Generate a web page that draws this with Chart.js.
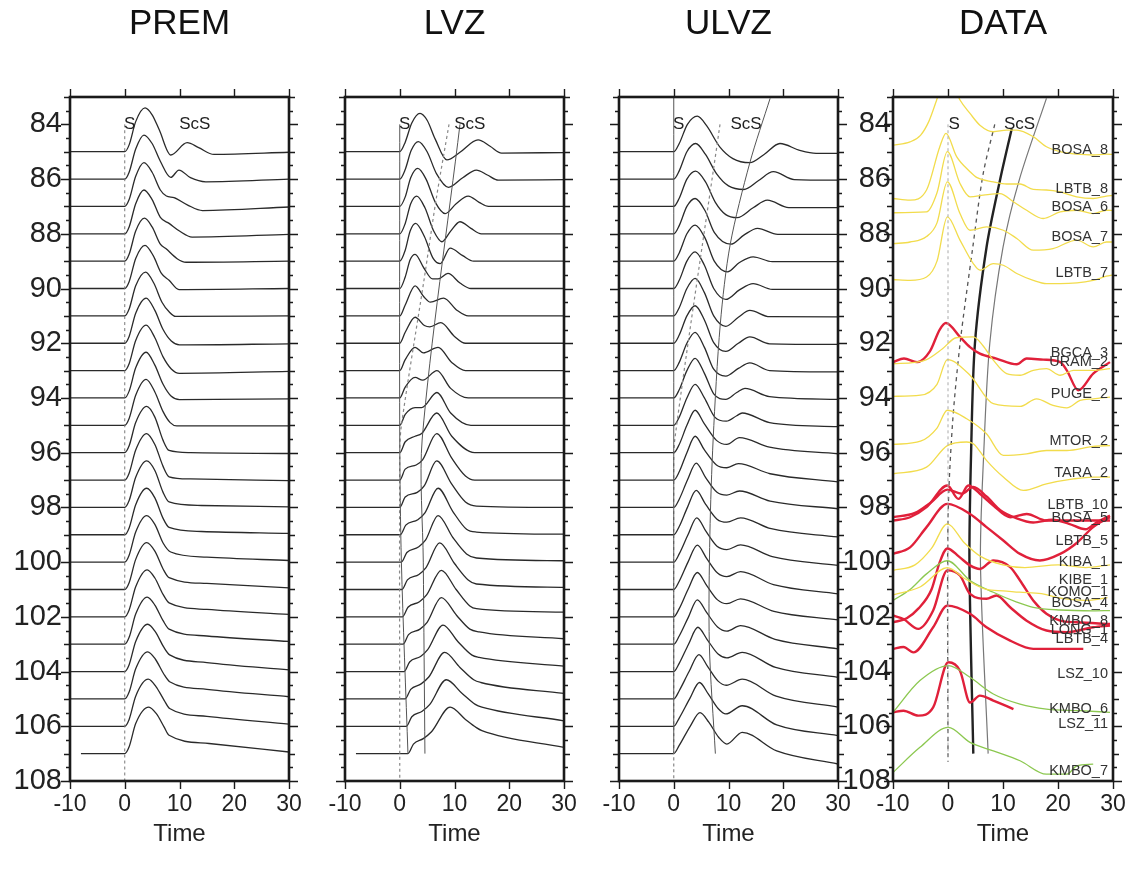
<!DOCTYPE html>
<html>
<head>
<meta charset="utf-8">
<script src="https://cdn.jsdelivr.net/npm/chart.js@4.4.0/dist/chart.umd.min.js"></script>
<style>
  body { margin: 0; background: #fff; }
  #wrap { position: relative; width: 1137px; height: 877px; overflow: hidden; background: #fff; }
  canvas { position: absolute; top: 0; }
</style>
</head>
<body>
<div id="wrap">
  <canvas id="c0" width="355" height="877"></canvas>
  <canvas id="c1" width="355" height="877"></canvas>
  <canvas id="c2" width="355" height="877"></canvas>
  <canvas id="c3" width="356" height="877"></canvas>
</div>
<script>
const SANS = "'Liberation Sans', Arial, Helvetica, sans-serif";

const panelTitles = ['PREM', 'LVZ', 'ULVZ', 'DATA'];
const timeTicks = [-10, 0, 10, 20, 30];
const distTicks = [84, 86, 88, 90, 92, 94, 96, 98, 100, 102, 104, 106, 108];

// baselines of the synthetic traces (deg)
const modelDist = [85, 86, 87, 88, 89, 90, 91, 92, 93, 94, 95, 96, 97, 98, 99, 100, 101, 102, 103, 104, 105, 106, 107];

// synthetic traces: pairs of [time, deflection from baseline] (negative = up)
const premTraces = [
  [-10,0, 0,0, 0.8,-0.25, 2,-1.1, 3.7,-1.6, 5,-1.35, 6.3,-0.8, 8.4,0.12, 11.4,-0.33, 13.5,-0.15, 16.3,0.1, 30,0.02],
  [-10,0, 0,0, 0.8,-0.25, 2,-1.1, 3.5,-1.61, 5,-1.3, 6.5,-0.65, 8.4,-0.06, 9.9,-0.33, 12,-0.05, 14.8,0.1, 30,0],
  [-10,0, 0,0, 0.8,-0.25, 2,-1.1, 3.5,-1.6, 5,-1.25, 6.5,-0.6, 7.6,-0.38, 9,-0.32, 11.5,-0.05, 14.2,0.15, 30,0.02],
  [-10,0, 0,0, 0.8,-0.25, 2,-1.1, 3.5,-1.6, 5,-1.25, 6.5,-0.6, 8.1,-0.38, 10,-0.1, 12.3,0.12, 30,0.02],
  [-10,0, 0,0, 0.8,-0.25, 2,-1.1, 3.6,-1.57, 5,-1.25, 6.5,-0.62, 7.5,-0.46, 9.5,-0.1, 11.2,0.04, 30,0],
  [-10,0, 0,0, 0.8,-0.25, 2,-1.1, 3.7,-1.58, 5.2,-1.2, 6.7,-0.55, 8.1,-0.3, 9.9,0.04, 30,0],
  [-10,0, 0,0, 0.8,-0.25, 2,-1.1, 3.8,-1.6, 5.3,-1.2, 6.8,-0.5, 8.1,-0.15, 9.3,0.02, 30,0],
  [-10,0, 0,0, 0.8,-0.25, 2,-1.1, 3.9,-1.65, 5.5,-1.2, 7,-0.5, 8.5,-0.08, 10,0.06, 30,0.02],
  [-10,0, 0,0, 0.8,-0.25, 2,-1.1, 3.9,-1.66, 5.5,-1.2, 7,-0.5, 8.5,-0.06, 10,0.1, 30,0.03],
  [-10,0, 0,0, 0.8,-0.25, 2,-1.1, 3.9,-1.67, 5.5,-1.2, 7,-0.5, 8.5,-0.06, 10,0.06, 30,0.03],
  [-10,0, 0,0, 0.8,-0.25, 2,-1.1, 3.9,-1.68, 5.5,-1.22, 7,-0.5, 8.3,-0.1, 9.5,0.02, 30,0.02],
  [-10,0, 0,0, 0.8,-0.25, 2,-1.1, 4,-1.69, 5.5,-1.3, 7,-0.45, 8.1,-0.08, 12,0, 30,0.03],
  [-10,0, 0,0, 0.8,-0.25, 2,-1.1, 4,-1.7, 5.5,-1.3, 7,-0.5, 8.1,-0.12, 12,-0.04, 30,0.02],
  [-10,0, 0,0, 0.8,-0.25, 2,-1.1, 4,-1.7, 5.5,-1.35, 7,-0.55, 8.1,-0.2, 14,-0.07, 30,-0.02],
  [-10,0, 0,0, 0.8,-0.25, 2,-1.1, 4,-1.7, 5.5,-1.35, 7,-0.6, 8.1,-0.27, 14,-0.12, 30,-0.05],
  [-10,0, 0,0, 0.8,-0.25, 2,-1.1, 4,-1.7, 5.5,-1.38, 7,-0.7, 8.4,-0.37, 15,-0.18, 30,-0.06],
  [-10,0, 0,0, 0.8,-0.25, 2,-1.1, 4,-1.71, 5.5,-1.4, 7,-0.75, 8.1,-0.43, 15,-0.22, 30,-0.06],
  [-10,0, 0,0, 0.8,-0.25, 2,-1.1, 4.1,-1.72, 5.5,-1.42, 7,-0.82, 8.1,-0.51, 15,-0.27, 30,-0.09],
  [-10,0, 0,0, 0.8,-0.25, 2,-1.1, 4.1,-1.72, 5.5,-1.43, 7,-0.86, 8.1,-0.55, 15,-0.3, 30,-0.1],
  [-10,0, 0,0, 0.8,-0.25, 2,-1.1, 4.2,-1.73, 5.6,-1.45, 7.1,-0.9, 8.2,-0.61, 15,-0.33, 30,-0.06],
  [-10,0, 0,0, 0.8,-0.25, 2,-1.1, 4.2,-1.72, 5.6,-1.45, 7.1,-0.92, 8.2,-0.63, 15,-0.35, 30,-0.08],
  [-10,0, 0,0, 0.8,-0.25, 2,-1.1, 4.3,-1.72, 5.7,-1.45, 7.2,-0.95, 8.2,-0.65, 15,-0.36, 30,-0.08],
  [-8,0, 0,0, 0.8,-0.25, 2,-1.1, 4.4,-1.7, 5.8,-1.45, 7.2,-0.97, 8.1,-0.67, 15.4,-0.37, 30,-0.06]
];

const lvzTraces = [
  [-10,0, 0,0, 1,-0.35, 2.2,-1.05, 3.7,-1.4, 5,-1.15, 6.5,-0.45, 8.6,0.3, 11,0.02, 14.3,-0.43, 16.5,-0.2, 18.6,0.05, 30,0.03],
  [-10,0, 0,0, 1,-0.35, 2.1,-1.05, 3.4,-1.37, 5,-1.0, 6.7,-0.2, 8.9,0.3, 11.5,-0.05, 14,-0.33, 16,-0.15, 18,0.04, 30,0.02],
  [-10,0, 0,0, 1,-0.35, 2,-1.05, 3.3,-1.39, 4.8,-1.0, 6.5,-0.15, 8.3,0.26, 10.3,-0.1, 12.5,-0.38, 14.5,-0.15, 16.2,0, 30,0],
  [-10,0, 0,0, 1,-0.38, 2,-1.1, 3.1,-1.38, 4.6,-0.95, 6.2,-0.1, 7.7,0.29, 9.3,-0.1, 11,-0.44, 13,-0.2, 14.9,0, 30,0],
  [-10,0, 0,0, 1,-0.4, 1.9,-1.1, 2.9,-1.38, 4.5,-0.9, 6.1,-0.1, 7.4,0.09, 9.2,-0.48, 11.5,-0.2, 13.5,0, 30,0],
  [-10,0, 0,0, 1,-0.42, 1.9,-1.05, 2.8,-1.25, 4.4,-0.75, 6,-0.35, 7,-0.35, 8.8,-0.55, 11,-0.2, 13,0, 30,0],
  [-10,0, 0,0, 1,-0.4, 2.8,-1.1, 4.4,-0.7, 5.6,-0.5, 8,-0.65, 10.5,-0.2, 12.5,0, 30,0],
  [-10,0, 0,0, 1,-0.4, 2.8,-0.95, 4.5,-0.65, 5.5,-0.6, 7.5,-0.75, 10,-0.25, 12,0, 30,0],
  [-10,0, 0,0, 1,-0.4, 2.8,-0.85, 4.3,-0.65, 7,-0.85, 9.5,-0.3, 12,0, 30,0],
  [-10,0, 0,0, 1,-0.4, 2.8,-0.75, 4.2,-0.65, 6.8,-1.0, 9.3,-0.35, 12.5,0, 30,0],
  [-10,0, 0,0, 1,-0.4, 2.8,-0.65, 4,-0.65, 6.8,-1.2, 9.3,-0.45, 13,0, 30,0],
  [-10,0, 0,0, 1,-0.4, 2.8,-0.6, 4,-0.7, 6.75,-1.45, 9.5,-0.6, 13.7,0, 30,0],
  [-10,0, 0,0, 1,-0.4, 3,-0.55, 4.2,-0.75, 6.75,-1.7, 9.5,-0.8, 12,-0.15, 13.7,0, 30,0],
  [-10,0, 0,0, 1,-0.38, 3.2,-0.55, 4.5,-0.8, 6.75,-1.7, 9.5,-0.85, 12,-0.2, 14,-0.05, 30,0],
  [-10,0, 0.1,0, 1.1,-0.35, 3.3,-0.55, 4.6,-0.8, 7,-1.7, 9.7,-0.85, 12.2,-0.2, 14,-0.1, 30,-0.02],
  [-10,0, 0.3,0, 1.3,-0.35, 3.4,-0.55, 4.7,-0.8, 7,-1.7, 9.7,-0.9, 12.2,-0.3, 14,-0.15, 30,-0.05],
  [-10,0, 0.4,0, 1.4,-0.35, 3.5,-0.55, 4.8,-0.8, 7.3,-1.7, 10,-0.95, 12.5,-0.35, 14,-0.2, 30,-0.08],
  [-10,0, 0.5,0, 1.5,-0.35, 3.6,-0.55, 4.9,-0.8, 7.6,-1.7, 10.3,-1.0, 12.8,-0.4, 14,-0.3, 30,-0.17],
  [-10,0, 0.6,0, 1.6,-0.35, 3.7,-0.55, 5,-0.8, 7.6,-1.7, 10.4,-1.05, 12.8,-0.55, 14.5,-0.45, 30,-0.2],
  [-10,0, 0.8,0, 1.8,-0.35, 3.8,-0.55, 5.1,-0.8, 7.9,-1.7, 10.6,-1.1, 13.2,-0.6, 14.5,-0.52, 30,-0.2],
  [-10,0, 1,0, 2,-0.35, 3.9,-0.55, 5.3,-0.8, 8.2,-1.7, 11,-1.15, 13.5,-0.7, 14.8,-0.6, 30,-0.2],
  [-10,0, 1.2,0, 2.2,-0.35, 4.1,-0.55, 5.5,-0.8, 8.5,-1.7, 11.4,-1.2, 13.8,-0.8, 15,-0.7, 30,-0.2],
  [-8,0, 1.5,0, 2.5,-0.35, 4.3,-0.55, 5.8,-0.8, 9.2,-1.7, 12,-1.25, 14,-0.95, 15,-0.84, 30,-0.23]
];

const ulvzTraces = [
  [-10,0, 0,0, 1,-0.3, 2.5,-1.0, 4.3,-1.3, 6,-0.95, 8.4,-0.18, 10.8,0.25, 13.9,0.4, 16.5,0.1, 19.4,-0.3, 23,-0.05, 26,0.06, 30,0.06],
  [-10,0, 0,0, 1,-0.3, 2.4,-1.0, 4,-1.3, 5.8,-0.9, 7.8,-0.2, 10,0.25, 12.8,0.38, 15.5,0.05, 18.2,-0.27, 22,0.02, 30,0.04],
  [-10,0, 0,0, 1,-0.3, 2.4,-1.0, 4,-1.29, 5.8,-0.9, 7.6,-0.15, 9.5,0.3, 11.6,0.41, 14.5,0.05, 17.1,-0.23, 21,0.04, 30,0.04],
  [-10,0, 0,0, 1,-0.3, 2.4,-1.0, 3.9,-1.29, 5.7,-0.85, 7.4,-0.05, 10.4,0.38, 12.8,0.05, 15.3,-0.2, 19,0.02, 30,0.02],
  [-10,0, 0,0, 1,-0.3, 2.4,-1.0, 3.9,-1.32, 5.7,-0.85, 7.4,0, 9.8,0.39, 12,0.05, 14.5,-0.16, 18,0.02, 30,0.02],
  [-10,0, 0,0, 1,-0.3, 2.4,-1.0, 3.9,-1.34, 5.6,-0.85, 7.3,0, 9.5,0.4, 12,0.05, 14.5,-0.18, 18,0.03, 30,0.03],
  [-10,0, 0,0, 1,-0.3, 2.4,-1.0, 3.9,-1.37, 5.6,-0.85, 7.3,0, 9.5,0.38, 11.8,0.05, 13.9,-0.2, 17.5,0.03, 30,0.04],
  [-10,0, 0,0, 1,-0.3, 2.4,-1.0, 3.9,-1.37, 5.6,-0.85, 7.3,-0.02, 9.5,0.3, 11.8,0, 13.9,-0.23, 17.5,0.02, 30,0.04],
  [-10,0, 0,0, 1,-0.3, 2.4,-1.0, 3.9,-1.4, 5.6,-0.85, 7.3,-0.05, 9.5,0.2, 11.8,-0.08, 13.9,-0.28, 17.5,0, 30,0.05],
  [-10,0, 0,0, 1,-0.3, 2.4,-1.0, 3.9,-1.45, 5.6,-0.9, 7.3,-0.15, 9.5,0.05, 11.5,-0.2, 13,-0.35, 17.5,-0.05, 30,0.05],
  [-10,0, 0,0, 1,-0.3, 2.4,-1.0, 3.9,-1.5, 5.6,-1.0, 7.5,-0.3, 9.6,-0.15, 11.5,-0.35, 12.5,-0.45, 17.5,-0.1, 30,0.05],
  [-10,0, 0,0, 1,-0.3, 2.4,-1.0, 3.9,-1.55, 5.6,-1.05, 7.8,-0.45, 9.7,-0.3, 12,-0.55, 17.5,-0.2, 30,0.04],
  [-10,0, 0,0, 1,-0.3, 2.4,-1.0, 3.9,-1.6, 5.6,-1.1, 7.8,-0.55, 9.7,-0.45, 11.8,-0.6, 17.6,-0.23, 30,0.07],
  [-10,0, 0,0, 1,-0.3, 2.5,-1.0, 4.1,-1.62, 5.8,-1.1, 7.9,-0.55, 9.7,-0.45, 12,-0.6, 17.6,-0.23, 30,0.05],
  [-10,0, 0,0, 1,-0.3, 2.5,-1.0, 4.1,-1.62, 5.8,-1.12, 7.9,-0.57, 9.7,-0.46, 12.2,-0.62, 17.8,-0.22, 30,0.08],
  [-10,0, 0,0, 1,-0.3, 2.6,-1.0, 4.2,-1.62, 5.9,-1.12, 7.9,-0.58, 9.7,-0.46, 12.2,-0.63, 18,-0.2, 30,0.12],
  [-10,0, 0,0, 1,-0.3, 2.6,-1.0, 4.3,-1.62, 6,-1.14, 8,-0.6, 9.7,-0.47, 12.2,-0.65, 18.2,-0.18, 30,0.16],
  [-10,0, 0,0, 1,-0.3, 2.6,-1.0, 4.3,-1.62, 6,-1.15, 8,-0.62, 9.7,-0.48, 12.2,-0.66, 18.3,-0.2, 30,0.11],
  [-10,0, 0,0, 1,-0.3, 2.7,-1.0, 4.3,-1.62, 6,-1.16, 8,-0.63, 9.7,-0.48, 12.2,-0.68, 18.5,-0.18, 30,0.17],
  [-10,0, 0,0, 1,-0.3, 2.7,-1.0, 4.4,-1.62, 6.1,-1.17, 8.1,-0.64, 9.7,-0.5, 12.5,-0.7, 18.6,-0.15, 30,0.21],
  [-10,0, 0,0, 1,-0.3, 2.8,-1.0, 4.6,-1.62, 6.2,-1.18, 8.1,-0.65, 9.6,-0.5, 12.5,-0.72, 18.7,-0.1, 30,0.3],
  [-10,0, 0,0, 1,-0.3, 2.9,-1.0, 4.7,-1.6, 6.3,-1.18, 8.1,-0.65, 9.5,-0.45, 12.5,-0.75, 18.8,-0.05, 30,0.34],
  [-10,0, 0,0, 1,-0.3, 3,-1.0, 4.8,-1.5, 6.4,-1.15, 8.2,-0.6, 9.7,-0.35, 12.5,-0.78, 18.8,-0.1, 30,0.38]
];

// recorded traces and their station labels: pairs of [time, distance]
const stationNames = ['BOSA_8','LBTB_8','BOSA_6','BOSA_7','LBTB_7','BGCA_3','URAM_2','PUGE_2','MTOR_2','TARA_2',
  'LBTB_10','BOSA_5','LBTB_5','KIBA_1','KIBE_1','KOMO_1','BOSA_4','KMBO_8','LONG_1','LBTB_4','LSZ_10','KMBO_6','LSZ_11','KMBO_7'];
const stationDist = [84.94, 86.37, 87.02, 88.11, 89.44, 92.37, 92.69, 93.87, 95.58, 96.75,
  97.93, 98.4, 99.23, 100.01, 100.64, 101.1, 101.51, 102.14, 102.47, 102.8, 104.08, 105.36, 105.9, 107.63];

const yellowTraces = [
  [-10,84.76, -6.9,84.64, -5,84.4, -3.5,83.9, -2.06,83.11, -1,82.5, 0.5,82.4, 2.18,83.11, 4,83.6, 5.8,84.03, 8.24,84.27, 10.66,84.21, 12.5,84.21, 15.5,84.45, 17.9,84.82, 20.4,85.0, 23.4,85.09, 26.4,85.12, 28.8,85.09, 30,85.1],
  [-10,86.71, -6.9,86.77, -3.9,86.4, -1.46,84.8, -0.37,84.33, 1.57,85.18, 4,85.73, 5.2,85.94, 8.24,86.1, 10.66,86.18, 13.1,86.18, 15.5,86.38, 17.9,86.4, 20.4,86.47, 23.4,86.65, 26.4,86.71, 28.8,86.62, 30,86.6],
  [-10,87.23, -3.9,87.2, -2,86.5, -0.12,85.0, 2.18,86.16, 4,86.65, 6.4,86.59, 9.45,86.53, 11.9,86.83, 14.3,87.14, 17.3,87.44, 20.4,87.2, 23.4,87.14, 26.4,87.26, 28.8,87.14, 30,87.15],
  [-10,88.36, -6.9,88.3, -3.9,88.1, -2,87.6, -0.12,86.1, 2.18,87.26, 4,87.87, 7,87.75, 10.06,87.87, 12.5,88.17, 15.5,88.6, 19.1,88.54, 23.4,88.23, 26.4,88.48, 28.8,88.3, 30,88.3],
  [-10,89.67, -6.9,89.7, -3.9,89.58, -2,89.0, -0.12,87.38, 2.18,88.23, 4.6,89.09, 5.8,89.33, 8.24,89.09, 10.06,89.15, 12.5,89.45, 15.5,89.7, 17.9,89.82, 20.4,89.82, 26.4,89.7, 28.8,89.55, 30,89.5],
  [-10,92.75, -6,92.7, -3.9,92.6, -1,92.2, 1.5,91.8, 4.6,91.77, 6.4,92.1, 8.24,92.62, 10.66,93.11, 13.1,93.17, 15.5,92.99, 17.9,92.93, 20.4,93.17, 22.8,92.99, 26.4,92.99, 29.45,92.93],
  [-10,93.94, -5,93.9, -2,93.5, -0.12,92.6, 4,93.17, 8.24,94.21, 13.1,94.31, 16.1,94.03, 19.1,94.27, 21.6,94.36, 24,94.09, 26.4,94.03, 29.45,93.97],
  [-10,95.7, -5,95.58, -2,95.1, -0.12,94.45, 3.4,94.76, 7,95.31, 10.06,96.1, 14.3,96.04, 17.9,95.92, 21.6,95.92, 26.4,95.77, 29.45,95.74],
  [-10,96.77, -3.9,96.53, -0.12,95.74, 3.4,95.61, 4.6,95.67, 7,96.28, 10.06,96.89, 13.7,97.38, 17.9,97.14, 22.8,96.96, 26.4,96.89, 29.45,96.89],
  [-10,100.3, -6,100.1, -3,99.5, -0.12,98.6, 3,99.3, 6,99.8, 10,100.1, 14,100.2, 20,100.1, 25,100.2, 29.45,100.1],
  [-10,101.2, -5,100.9, -0.12,100.2, 3,100.6, 7,101.0, 10,101.05, 13,101.1, 17,101.15, 20,101.3, 25,101.4, 29,101.3]
];
const redTraces = [
  [-10,92.69, -8,92.56, -5.6,92.69, -3.3,92.3, -1.5,91.5, -0.37,91.26, 2.18,91.77, 4,92.14, 5.8,92.38, 8.8,92.56, 12.5,92.77, 14.3,92.56, 17.3,92.6, 20.4,92.69, 21.6,92.99, 23.7,93.72, 26.4,93.11, 29.45,92.69],
  [-10,98.48, -6.9,98.36, -3.9,97.99, -0.12,97.2, 1.9,97.69, 3.7,97.2, 5.8,97.5, 8.24,97.93, 11.3,98.36, 14.3,98.24, 17.9,98.48, 23.4,98.48, 29.45,98.48],
  [-10,98.36, -6,98.2, -3,97.8, -0.12,97.35, 2.5,97.5, 4.6,97.25, 7,97.6, 9.5,98.1, 12.5,98.4, 15.5,98.55, 19,98.45, 22,98.6, 25,98.8, 27,98.55, 29.45,98.3],
  [-10,99.7, -6.9,99.46, -3.9,98.72, -0.12,97.87, 4,98.24, 7,98.72, 10.06,99.21, 13.1,99.7, 16.7,99.94, 20.4,99.7, 23.4,99.3, 26.4,98.72, 29.45,98.36],
  [-10,102.2, -7.5,102.05, -5.4,101.7, -3,101.0, -1.5,100.0, -0.12,99.5, 2,99.8, 4,100.12, 5.8,100.25, 8.24,99.94, 11.3,100.18, 13.1,100.67, 15.5,101.4, 17.9,101.89, 20.4,102.14, 23.4,102.2, 29.45,102.26],
  [-10,101.95, -8.1,102.08, -5.4,102.44, -2.7,101.77, -0.12,100.3, 2.18,100.49, 4,101.16, 7,101.34, 8.8,101.22, 11.3,101.65, 14.3,102.14, 17.9,102.5, 21.6,102.56, 26.4,102.38, 29.45,102.32],
  [-10,103.17, -8.1,103.1, -6.3,103.3, -2.7,102.38, -0.12,101.59, 4,101.89, 7,102.38, 11.3,102.87, 15.5,103.17, 19.1,103.17, 24.6,103.17],
  [-10,105.49, -8.1,105.43, -5.4,105.61, -2.7,105.31, 0.06,103.66, 2.18,103.97, 4,105.13, 5.8,104.88, 8.24,105.06, 11.9,105.37]
];
const greenTraces = [
  [-10,101.4, -6.9,101.0, -3.9,100.43, -0.12,99.95, 4,100.67, 8.24,101.1, 12.5,101.46, 15.5,101.65, 20.4,101.75, 26.4,101.78, 29.45,101.77],
  [-10,105.49, -5.1,104.33, 0.06,103.78, 4,104.21, 8.24,104.82, 13.1,105.19, 17.9,105.37, 24,105.43, 29.45,105.49],
  [-10,107.69, -5.1,106.77, 0.06,106.04, 4,106.59, 8.24,106.9, 13.1,107.26, 17.9,107.75, 21.6,107.75, 23.4,107.45, 26.4,107.38]
];

// phase guide curves: pairs of [time, distance]
const premSLine = [0,84, 0,108];
const lvzSLine = [0,84, 0,95.5, 0.3,100, 1.5,107];
const lvzDashLine = [9,84, 6.6,86.8, 4.5,89.6, 0.3,95, 0,96, 0,108];
const lvzScSLine = [11,84, 4.1,95.5, 4.3,100, 4.6,107];
const ulvzSLine = [0,83, 0,107];
const ulvzDashLine = [8.45,84, 0.2,95.5, 0,97, 0,108];
const ulvzScSLine = [17.6,83.05, 13.9,85.4, 10.3,88.4, 8.5,91.3, 7.2,95.5, 6.6,99, 6.5,103, 7.6,107];
const dataSLine = [0,84, 0,107.3];
const dataDashLine = [8.5,84, 6.4,85.8, 4.5,88.5, 2.2,92, 0.8,95, 0,98.5, 0,107.3];
const dataScSLine = [11.6,84.15, 9.5,86, 7,88.5, 4.9,92, 4.2,96, 3.9,100, 4.6,107];
const dataScSLine2 = [17.9,83.05, 13,86, 10,88.5, 7.6,92, 6.5,96, 5.9,100, 7.3,107];

// phase labels: [time, distance] of S and ScS
const phaseNames = ['S', 'ScS'];
const phaseSpots = [
  [[0.9, 84], [12.8, 84]],
  [[0.9, 84], [12.8, 84]],
  [[0.9, 84], [13.2, 84]],
  [[1.1, 84], [13.0, 84]]
];

function pts(flat, base) {
  const out = [];
  for (let i = 0; i < flat.length; i += 2) out.push({ x: flat[i], y: (base || 0) + flat[i + 1] });
  return out;
}
function traceSets(traces, color, width) {
  return traces.map((tr, i) => ({ data: pts(tr, modelDist[i]), borderColor: color, borderWidth: width, cubicInterpolationMode: 'monotone' }));
}
function flatSets(traces, color, width) {
  return traces.map(tr => ({ data: pts(tr), borderColor: color, borderWidth: width, cubicInterpolationMode: 'monotone' }));
}
function guide(flat, color, width, dash) {
  return { data: pts(flat), borderColor: color, borderWidth: width, borderDash: dash || [], tension: 0.3, cubicInterpolationMode: 'default' };
}

const frame = {
  id: 'frame',
  afterDatasetsDraw(chart, args, opts) {
    const { ctx, chartArea: a, scales: { x, y } } = chart;
    ctx.save();
    ctx.strokeStyle = '#1a1a1a';
    ctx.lineWidth = 1.4;
    ctx.beginPath();
    for (let v = 83; v <= 108; v += 0.5) {
      const py = Math.round(y.getPixelForValue(v)) + 0.5;
      const len = v % 2 === 0 ? 9 : (v % 1 === 0 ? 6 : 4);
      ctx.moveTo(a.left - len, py); ctx.lineTo(a.left, py);
      ctx.moveTo(a.right, py); ctx.lineTo(a.right + len, py);
    }
    timeTicks.forEach(t => {
      const px = Math.round(x.getPixelForValue(t)) + 0.5;
      ctx.moveTo(px, a.top - 8); ctx.lineTo(px, a.top);
      ctx.moveTo(px, a.bottom); ctx.lineTo(px, a.bottom + 8);
    });
    ctx.stroke();
    ctx.lineWidth = 2.6;
    ctx.strokeRect(a.left, a.top, a.right - a.left, a.bottom - a.top);
    ctx.fillStyle = '#222';
    ctx.font = '17px ' + SANS;
    ctx.textAlign = 'center';
    ctx.textBaseline = 'middle';
    opts.phases.forEach((p, i) => ctx.fillText(phaseNames[i], x.getPixelForValue(p[0]), y.getPixelForValue(p[1])));
    if (opts.stations) {
      ctx.font = '14.5px ' + SANS;
      ctx.textAlign = 'right';
      ctx.fillStyle = '#333';
      stationNames.forEach((s, i) => ctx.fillText(s, a.right - 5, y.getPixelForValue(stationDist[i])));
    }
    ctx.restore();
  }
};

function makeChart(idx, datasets, showY, yPad, stations) {
  return new Chart(document.getElementById('c' + idx), {
    type: 'line',
    data: { datasets },
    options: {
      responsive: false,
      animation: false,
      events: [],
      layout: { padding: 0 },
      elements: { point: { radius: 0 }, line: { fill: false } },
      plugins: {
        legend: { display: false },
        tooltip: { enabled: false },
        title: { display: true, text: panelTitles[idx], color: '#111', font: { family: SANS, size: 35, weight: 'normal' }, padding: { top: 3, bottom: 52 } },
        frame: { phases: phaseSpots[idx], stations }
      },
      scales: {
        x: {
          type: 'linear', min: -10, max: 30, position: 'bottom',
          afterBuildTicks: s => { s.ticks = timeTicks.map(v => ({ value: v })); },
          afterFit: s => { s.height = 96; },
          grid: { display: false, drawTicks: true, tickLength: 8 },
          border: { display: false },
          ticks: { color: '#222', font: { family: SANS, size: 23 }, padding: 2, maxRotation: 0 },
          title: { display: true, text: 'Time', color: '#222', font: { family: SANS, size: 24 }, padding: { top: 0, bottom: 28 } }
        },
        y: {
          type: 'linear', min: 83, max: 108, reverse: true,
          afterBuildTicks: s => { s.ticks = distTicks.map(v => ({ value: v })); },
          afterFit: s => { s.width = 68; },
          grid: { display: false, drawTicks: true, tickLength: yPad },
          border: { display: false },
          ticks: { display: showY, color: '#222', font: { family: SANS, size: 29 }, padding: 0 }
        },
        // empty mirror axis on the right keeps the plot centred under its title
        yr: {
          type: 'linear', position: 'right', min: 83, max: 108, reverse: true,
          afterFit: s => { s.width = 68; },
          grid: { display: false, drawTicks: false },
          border: { display: false },
          ticks: { display: false }
        }
      }
    },
    plugins: [frame]
  });
}

const INK = '#2a2a2a';
const GUIDE = '#555';
const panelLefts = [70, 345, 619, 893];
panelLefts.forEach((l, i) => { document.getElementById('c' + i).style.left = (l - 68) + 'px'; });

makeChart(0, [
  guide(premSLine, '#777', 1, [3, 3]),
  ...traceSets(premTraces, INK, 1.3)
], true, 8, false);

makeChart(1, [
  guide(lvzSLine, GUIDE, 1),
  guide(lvzDashLine, '#888', 1.2, [3, 3]),
  guide(lvzScSLine, GUIDE, 1),
  ...traceSets(lvzTraces, INK, 1.3)
], false, 8, false);

makeChart(2, [
  guide(ulvzSLine, GUIDE, 1),
  guide(ulvzDashLine, '#888', 1.2, [3, 3]),
  guide(ulvzScSLine, GUIDE, 1),
  ...traceSets(ulvzTraces, INK, 1.3)
], false, 8, false);

makeChart(3, [
  guide(dataSLine, '#aaa', 1, [3, 3]),
  ...flatSets(yellowTraces, '#f2dc4c', 1.3),
  ...flatSets(greenTraces, '#8cc850', 1.3),
  ...flatSets(redTraces, '#e0203a', 2.4),
  guide(dataDashLine, '#555', 1.3, [4, 4]),
  guide(dataScSLine, '#222', 2.4),
  guide(dataScSLine2, '#777', 1.2)
], true, 2, true);
</script>
</body>
</html>
